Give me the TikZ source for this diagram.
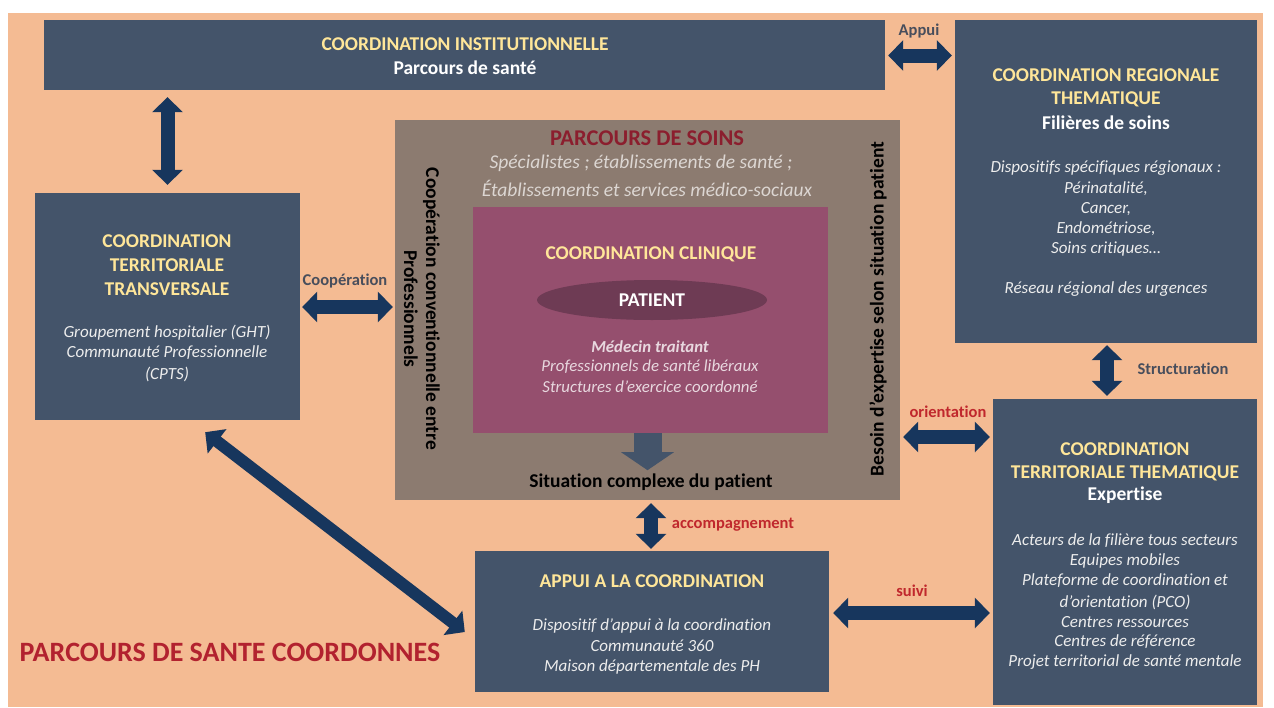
\documentclass[tikz,border=0pt]{standalone}
\usepackage{fontspec}
\setmainfont{Carlito}[Ligatures=NoCommon]
\usetikzlibrary{arrows.meta,calc,shapes.geometric}
\definecolor{bgc}{HTML}{F4BB93}
\definecolor{boxc}{HTML}{44546A}
\definecolor{ttl}{HTML}{FFE699}
\definecolor{itc}{HTML}{EDEDED}
\definecolor{soinsc}{HTML}{8C7B70}
\definecolor{clinc}{HTML}{954F6E}
\definecolor{patc}{HTML}{6E3B54}
\definecolor{drc}{HTML}{8B1E2E}
\definecolor{redc}{HTML}{C0282D}
\definecolor{bigred}{HTML}{B2222F}
\definecolor{arrc}{HTML}{17365D}
\definecolor{spc}{HTML}{DCD6D2}
\definecolor{clit}{HTML}{E8D8DF}
\definecolor{lblc}{HTML}{484E5C}
\begin{document}
\begin{tikzpicture}[x=1pt,y=-1pt,
  boxs/.style={fill=boxc, draw=none, inner sep=0pt},
  ttxt/.style={text=ttl, font=\fontsize{19.5}{22}\selectfont\bfseries, inner sep=0pt},
  wtxt/.style={text=white, font=\fontsize{19.5}{22}\selectfont\bfseries, inner sep=0pt},
  itxt/.style={text=itc, font=\fontsize{17}{19}\selectfont\itshape, inner sep=0pt},
  lbl/.style={text=lblc, font=\fontsize{16.5}{18}\selectfont\bfseries, inner sep=0pt},
  rlbl/.style={text=redc, font=\fontsize{16.5}{18}\selectfont\bfseries, inner sep=0pt},
  dbl/.style={draw=arrc, line width=14pt, arrows={Triangle[width=30pt,length=15pt]-Triangle[width=30pt,length=15pt]}}
]
\useasboundingbox (0,0) rectangle (1274,707);
\fill[white] (0,0) rectangle (1274,707);
\fill[bgc] (8,13) rectangle (1263,707);

% boxes
\node[boxs, minimum width=841pt, minimum height=70pt] (inst) at (464.5,55) {};
\node[boxs, minimum width=302pt, minimum height=323pt] (reg) at (1106,181.5) {};
\node[boxs, minimum width=265pt, minimum height=227pt] (trans) at (167.5,306.5) {};
\node[fill=soinsc, inner sep=0pt, minimum width=505pt, minimum height=380pt] (soins) at (647.5,310) {};
\node[fill=clinc, inner sep=0pt, minimum width=355pt, minimum height=226pt] (clin) at (650.5,320) {};
\node[fill=patc, ellipse, inner sep=0pt, minimum width=230pt, minimum height=40pt] (pat) at (652,300) {};
\node[boxs, minimum width=264pt, minimum height=306pt] (them) at (1125,552) {};
\node[boxs, minimum width=354pt, minimum height=141pt] (appui) at (652,621.5) {};

% institutional
\node[ttxt] (i1) at (465,44) {COORDINATION INSTITUTIONNELLE};
\node[wtxt] (i2) at (465,68) {Parcours de santé};

% regional
\node[ttxt] (r1) at (1106,75) {COORDINATION REGIONALE};
\node[ttxt] (r2) at (1106,99) {THEMATIQUE};
\node[wtxt] (r3) at (1106,123) {Filières de soins};
\node[itxt] (r4) at (1106,168) {Dispositifs spécifiques régionaux :};
\node[itxt] (r5) at (1106,189) {Périnatalité,};
\node[itxt] (r6) at (1106,209) {Cancer,};
\node[itxt] (r7) at (1106,229) {Endométriose,};
\node[itxt] (r8) at (1106,249) {Soins critiques…};
\node[itxt] (r9) at (1106,289) {Réseau régional des urgences};

% transversale
\node[ttxt] (t1) at (167,241) {COORDINATION};
\node[ttxt] (t2) at (167,265) {TERRITORIALE};
\node[ttxt] (t3) at (167,289) {TRANSVERSALE};
\node[itxt] (t4) at (167,333) {Groupement hospitalier (GHT)};
\node[itxt] (t5) at (167,353) {Communauté Professionnelle};
\node[itxt] (t6) at (167,374) {(CPTS)};

% soins
\node[text=drc, font=\fontsize{22.5}{25}\selectfont\bfseries, inner sep=0pt] (s1) at (647,138) {PARCOURS DE SOINS};
\node[text=spc, font=\fontsize{19.5}{21}\selectfont\itshape, inner sep=0pt] (s2) at (641,163) {Spécialistes ; établissements de santé ;};
\node[text=spc, font=\fontsize{19.5}{21}\selectfont\itshape, inner sep=0pt] (s3) at (647,188) {Établissements et services médico-sociaux};
\node[text=black, font=\fontsize{19.5}{22}\selectfont\bfseries, inner sep=0pt] (s4) at (651,482) {Situation complexe du patient};
\node[text=black, font=\fontsize{19.5}{22}\selectfont\bfseries, inner sep=0pt, align=center, rotate=-90] (s5) at (422,309) {Coopération conventionnelle entre\\Professionnels};
\node[text=black, font=\fontsize{19.5}{22}\selectfont\bfseries, inner sep=0pt, rotate=90] (s6) at (878,309) {Besoin d’expertise selon situation patient};

% clinique
\node[ttxt] (c1) at (651,254) {COORDINATION CLINIQUE};
\node[wtxt] (c2) at (pat) {PATIENT};
\node[text=clit, font=\fontsize{16.8}{19}\selectfont\bfseries\itshape, inner sep=0pt] (c3) at (650,347) {Médecin traitant};
\node[text=clit, font=\fontsize{16.8}{19}\selectfont\itshape, inner sep=0pt] (c4) at (650,367) {Professionnels de santé libéraux};
\node[text=clit, font=\fontsize{16.8}{19}\selectfont\itshape, inner sep=0pt] (c5) at (650,387) {Structures d’exercice coordonné};

% thematique
\node[ttxt] (h1) at (1125,449) {COORDINATION};
\node[ttxt] (h2) at (1125,473) {TERRITORIALE THEMATIQUE};
\node[wtxt] (h3) at (1125,495) {Expertise};
\node[itxt] (h4) at (1125,541) {Acteurs de la filière tous secteurs};
\node[itxt] (h5) at (1125,561) {Equipes mobiles};
\node[itxt] (h6) at (1125,581) {Plateforme de coordination et};
\node[itxt] (h7) at (1125,602) {d’orientation (PCO)};
\node[itxt] (h8) at (1125,622) {Centres ressources};
\node[itxt] (h9) at (1125,642) {Centres de référence};
\node[itxt] (h10) at (1125,662) {Projet territorial de santé mentale};

% appui
\node[ttxt] (a1) at (652,581) {APPUI A LA COORDINATION};
\node[itxt] (a2) at (652,626) {Dispositif d’appui à la coordination};
\node[itxt] (a3) at (652,646) {Communauté 360};
\node[itxt] (a4) at (652,667) {Maison départementale des PH};

% title
\node[text=bigred, font=\fontsize{28}{31}\selectfont\bfseries, inner sep=0pt] (big) at (230,652) {PARCOURS DE SANTE COORDONNES};

% arrows
\draw[dbl] ($(inst.south -| trans.north)+(0,7)$) -- ($(trans.north)+(0,-8)$);
\draw[dbl] ($(inst.east)+(3,0.5)$) -- ($(reg.west |- inst.east)+(-3,0.5)$);
\draw[dbl] ($(trans.east)+(2,0.5)$) -- ($(soins.west |- trans.east)+(-2,0.5)$);
\draw[dbl] ($(reg.south)+(1,2)$) -- ($(them.north -| reg.south)+(1,-3)$);
\draw[dbl] ($(soins.east |- 0,437)+(3,0)$) -- ($(them.west |- 0,437)+(-3,0)$);
\draw[dbl] ($(soins.south -| appui.north)+(-1,3)$) -- ($(appui.north)+(-1,-2)$);
\draw[dbl] ($(appui.east |- 0,613)+(4,0)$) -- ($(them.west |- 0,613)+(-3,0)$);
\draw[dbl, line width=12pt] ($(trans.south east)+(-95,12)$) -- ($(appui.west)+(-10,10.5)$);
\draw[draw=boxc, line width=28pt, arrows={-Triangle[width=52pt,length=18pt]}] ($(clin.south)+(-3,0)$) -- ($(clin.south)+(-3,37)$);

% labels
\node[lbl] (l1) at (919,31) {Appui};
\node[lbl] (l2) at (345,281) {Coopération};
\node[lbl] (l3) at (1183,369) {Structuration};
\node[rlbl] (l4) at (948,412) {orientation};
\node[rlbl] (l5) at (733,525) {accompagnement};
\node[rlbl] (l6) at (912,591) {suivi};
\end{tikzpicture}
\end{document}
